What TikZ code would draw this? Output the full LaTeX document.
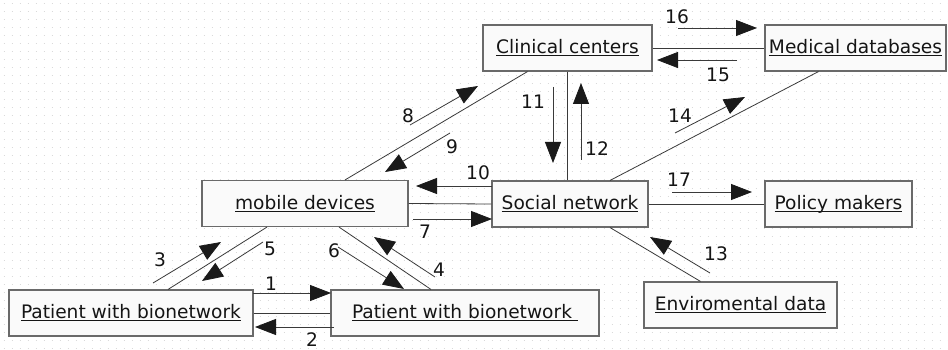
\documentclass[tikz,border=0pt]{standalone}
\usepackage{fontspec}
\setmainfont{DejaVu Sans}
\usetikzlibrary{arrows.meta,calc}
\definecolor{boxline}{HTML}{6A6A6A}
\definecolor{boxfill}{HTML}{FAFAFA}
\definecolor{conn}{HTML}{3A3A3A}
\definecolor{txt}{HTML}{151515}
\definecolor{dotc}{HTML}{DADADA}
\definecolor{headc}{HTML}{1A1A1A}
\newcommand\ulin[1]{\setbox0\hbox{#1}\rlap{\rule[-2.6pt]{\wd0}{0.9pt}}\box0}
\tikzset{
  entity/.style={draw=boxline, line width=1.1pt, fill=boxfill, rectangle, inner sep=0pt,
    minimum height=46pt, text=txt, font=\fontsize{18.6}{20}\selectfont},
  link/.style={draw=conn, line width=0.8pt},
  msg/.style={draw=conn, line width=0.8pt, -{Triangle[length=21pt,width=16pt,color=headc]}},
  num/.style={text=txt, font=\fontsize{18.6}{20}\selectfont, inner sep=0pt}
}
\begin{document}
\begin{tikzpicture}[x=1pt,y=-1pt]
\useasboundingbox (0,0) rectangle (948,350);
\fill[white] (0,0) rectangle (948,350);
% dotted grid background
\foreach \yy in {4,12,...,348} {
  \draw[dotc, line width=1pt, dash pattern=on 1pt off 7pt] (3.5,\yy) -- (948,\yy);
}
% entities
\node[entity, minimum width=169pt] (clin) at (567.5,48) {\ulin{Clinical centers}};
\node[entity, minimum width=181pt] (med) at (855.5,48) {\ulin{Medical databases}};
\node[entity, minimum width=206pt] (mob) at (305,203.5) {\ulin{mobile devices}};
\node[entity, minimum width=156pt] (soc) at (570,204) {\ulin{Social network}};
\node[entity, minimum width=147pt] (pol) at (838.5,204) {\ulin{Policy makers}};
\node[entity, minimum width=244pt] (pat1) at (131,313) {\ulin{Patient with bionetwork}};
\node[entity, minimum width=268pt] (pat2) at (465,313) {\ulin{Patient with bionetwork\ }};
\node[entity, minimum width=193pt] (env) at (740.5,305) {\ulin{Enviromental data}};
% links
\draw[link] (pat1.east) -- (pat2.west);
\draw[link] ([xshift=37pt]pat1.north) -- ([xshift=-38pt]mob.south);
\draw[link] ([xshift=-34pt]pat2.north) -- ([xshift=34pt]mob.south);
\draw[link] (mob.east) -- (soc.west);
\draw[link] ([xshift=40pt]mob.north) -- ([xshift=-40pt]clin.south);
\draw[link] (clin.south) -- (clin.south |- soc.north);
\draw[link] (clin.east) -- (med.west);
\draw[link] ([xshift=40pt]soc.north) -- ([xshift=-37pt]med.south);
\draw[link] (soc.east) -- (pol.west);
\draw[link] ([xshift=40pt]soc.south) -- ([xshift=-40pt]env.north);
% message arrows
\coordinate (m1a) at (253,293); \coordinate (m1b) at (331,293);
\coordinate (m2a) at (334,327); \coordinate (m2b) at (255,327);
\coordinate (m3a) at (153,283); \coordinate (m3b) at (221,242);
\coordinate (m5a) at (263,242); \coordinate (m5b) at (202,281);
\coordinate (m6a) at (338,247); \coordinate (m6b) at (404,289);
\coordinate (m4a) at (435,277); \coordinate (m4b) at (374,237);
\coordinate (m7a) at (413,219); \coordinate (m7b) at (492,219);
\coordinate (m10a) at (492,186); \coordinate (m10b) at (416,186);
\coordinate (m17a) at (672,192); \coordinate (m17b) at (752,192);
\coordinate (m13a) at (710,273); \coordinate (m13b) at (650,237);
\coordinate (m8a) at (410,125); \coordinate (m8b) at (478,86);
\coordinate (m9a) at (450,133); \coordinate (m9b) at (385,172);
\coordinate (m11a) at (553,87); \coordinate (m11b) at (553,163);
\coordinate (m12a) at (581,160); \coordinate (m12b) at (581,83);
\coordinate (m14a) at (675,133); \coordinate (m14b) at (745,97);
\coordinate (m16a) at (678,28); \coordinate (m16b) at (757,28);
\coordinate (m15a) at (737,60); \coordinate (m15b) at (657,60);
\foreach \m in {1,2,3,4,5,6,7,8,9,10,11,12,13,14,15,16,17} {
  \draw[msg] (m\m a) -- (m\m b);
}
% labels
\node[num] (l1) at (271,284) {1};
\node[num] (l2) at (312,340) {2};
\node[num] (l3) at (160,260) {3};
\node[num] (l4) at (439,270) {4};
\node[num] (l5) at (270,249) {5};
\node[num] (l6) at (334,251) {6};
\node[num] (l7) at (425,232) {7};
\node[num] (l8) at (408,116) {8};
\node[num] (l9) at (452,147) {9};
\node[num] (l10) at (478,173) {10};
\node[num] (l11) at (533,102) {11};
\node[num] (l12) at (597,149) {12};
\node[num] (l13) at (716,254) {13};
\node[num] (l14) at (680,116) {14};
\node[num] (l15) at (718,75) {15};
\node[num] (l16) at (677,17) {16};
\node[num] (l17) at (679,180) {17};
\end{tikzpicture}
\end{document}
